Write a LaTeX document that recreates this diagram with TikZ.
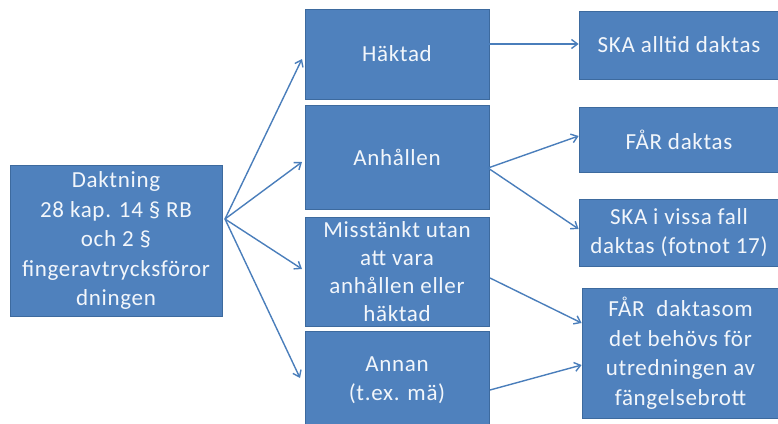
\documentclass[tikz,border=0pt]{standalone}
\usepackage{fontspec}
\setmainfont{Carlito}[LetterSpace=3]
\usetikzlibrary{arrows.meta}
\definecolor{boxfill}{HTML}{4F81BD}
\definecolor{boxline}{HTML}{3D6A9E}
\definecolor{arr}{HTML}{4A7EBB}
\definecolor{txt}{HTML}{F2F6FB}
\tikzset{
  box/.style={draw=boxline, line width=0.8pt, fill=boxfill, text=txt, inner sep=0pt, align=center,
    font=\fontsize{23}{29.5}\selectfont},
  conn/.style={draw=arr, line width=1.4pt, -{Straight Barb[length=6pt,width=9pt,line width=1.4pt]}}
}
\begin{document}
\begin{tikzpicture}[x=1pt,y=-1pt]
\useasboundingbox (0,0) rectangle (778,423);
\clip (0,0) rectangle (778,423);
\node[box, minimum width=212pt, minimum height=151pt] (d) at (116,240.5)
  {Daktning\\28 kap. 14 § RB\\och 2 §\\fingeravtrycksföror\\dningen};
\node[box, minimum width=184pt, minimum height=90pt] (h) at (397,54) {Häktad};
\node[box, minimum width=184pt, minimum height=104pt] (a) at (397,157) {Anhållen};
\node[box, minimum width=184pt, minimum height=109pt, font=\fontsize{23}{28}\selectfont] (m) at (397,271.5)
  {Misstänkt utan\\att vara\\anhållen eller\\häktad};
\node[box, minimum width=184pt, minimum height=98pt] (n) at (397,380) {Annan\\(t.ex. mä)};
\node[box, minimum width=200pt, minimum height=68pt] (s1) at (679,45) {SKA alltid daktas};
\node[box, minimum width=200pt, minimum height=65pt] (f1) at (679,139.5) {FÅR daktas};
\node[box, minimum width=200pt, minimum height=67pt] (s2) at (679,232.5) {SKA i vissa fall\\daktas (fotnot 17)};
\node[box, minimum width=197pt, minimum height=130pt] (f2) at (680.5,353) {FÅR\ \ daktasom\\det behövs för\\utredningen av\\fängelsebrott};
\coordinate (o) at (225,219);
\draw[conn] (o) -- (302,59);
\draw[conn] (o) -- (302,162);
\draw[conn] (o) -- (302,269);
\draw[conn] (o) -- (300,378);
\draw[conn] (h.east |- 0,44) -- (s1.west |- 0,44);
\draw[conn] (488,168) -- (f1.west |- 0,136);
\draw[conn] (488,168) -- (s2.west |- 0,229);
\draw[conn] (490,278) -- (f2.west |- 0,323);
\draw[conn] (490,390) -- (f2.west |- 0,365);
\end{tikzpicture}
\end{document}
